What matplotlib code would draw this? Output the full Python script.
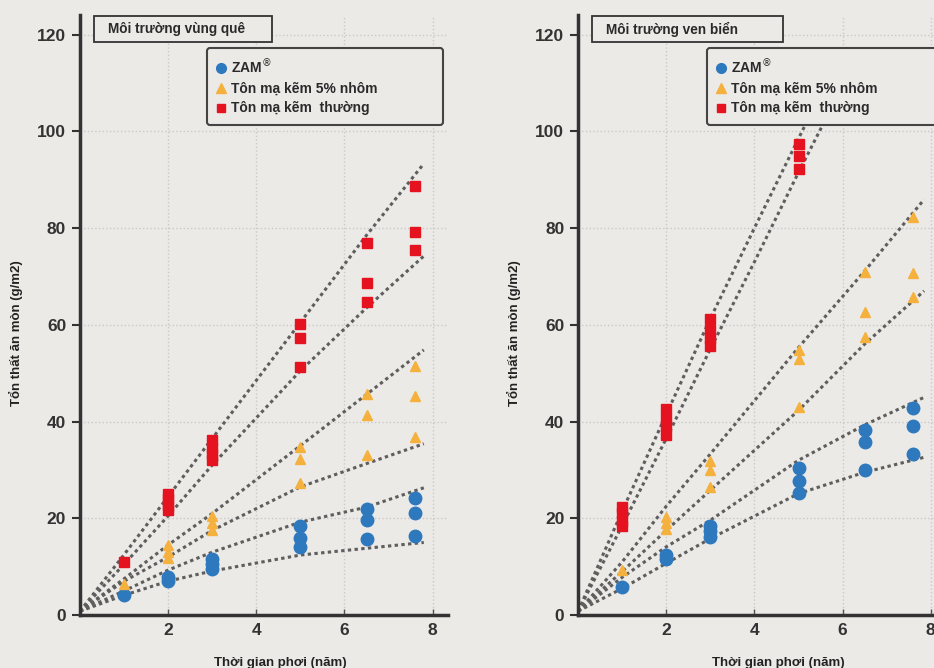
import numpy as np
import matplotlib.pyplot as plt
from matplotlib.lines import Line2D
from matplotlib.patches import Rectangle

plt.rcParams['font.family'] = ['Liberation Sans', 'DejaVu Sans']

BG = "#ECEAE7"
BLUE = "#2E78BD"
ORANGE = "#F5B13D"
RED = "#E5121F"
LINE = "#5E5E5E"

# ---- rural panel (Môi trường vùng quê) ----
rural_zam_x = [1, 2, 2, 3, 3, 3, 5, 5, 5, 6.5, 6.5, 6.5, 7.6, 7.6, 7.6]
rural_zam_y = [4.1, 7.9, 7.1, 11.5, 10.5, 9.5, 18.4, 16.0, 14.0, 21.9, 19.6, 15.8, 24.1, 21.0, 16.4]
rural_al_x = [1, 2, 2, 2, 3, 3, 3, 5, 5, 5, 6.5, 6.5, 6.5, 7.6, 7.6, 7.6]
rural_al_y = [6.5, 14.5, 13.0, 11.8, 20.5, 19.0, 17.5, 34.8, 32.3, 27.3, 45.6, 41.4, 33.0, 51.5, 45.2, 36.8]
rural_gi_x = [1, 2, 2, 2, 2, 3, 3, 3, 3, 5, 5, 5, 6.5, 6.5, 6.5, 7.6, 7.6, 7.6]
rural_gi_y = [11.0, 25.0, 24.0, 22.8, 21.8, 36.2, 34.5, 33.2, 32.0, 60.1, 57.3, 51.3, 76.8, 68.7, 64.7, 88.7, 79.2, 75.4]

rural_fit_x = [0, 1, 2, 3, 5, 6.5, 7.8]
rural_fits = [
    [0.8, 12.5, 24.5, 36.5, 60.5, 78.5, 93.3],
    [0.8, 10.5, 20.5, 31.0, 50.5, 63.5, 74.2],
    [0.8, 7.5, 14.5, 21.0, 35.0, 45.6, 54.8],
    [0.8, 7.0, 12.0, 17.5, 26.5, 31.3, 35.4],
    [0.8, 5.0, 9.3, 13.0, 19.2, 22.3, 26.3],
    [0.8, 4.1, 7.0, 9.1, 12.4, 13.8, 15.0],
]
rural_fit_xs = [rural_fit_x] * 6

# ---- coastal panel (Môi trường ven biển) ----
coast_zam_x = [1, 2, 2, 3, 3, 3, 5, 5, 5, 6.5, 6.5, 6.5, 7.6, 7.6, 7.6]
coast_zam_y = [5.7, 12.5, 11.5, 18.5, 17.3, 16.2, 30.4, 27.8, 25.2, 38.3, 35.7, 29.9, 42.8, 39.0, 33.2]
coast_al_x = [1, 2, 2, 2, 3, 3, 3, 5, 5, 5, 6.5, 6.5, 6.5, 7.6, 7.6, 7.6]
coast_al_y = [9.3, 20.3, 19.0, 17.8, 31.8, 30.0, 26.5, 54.8, 53.0, 42.9, 71.0, 62.7, 57.4, 82.3, 70.8, 65.8]
coast_gi_x = [1, 1, 1, 1, 2, 2, 2, 2, 3, 3, 3, 3, 5, 5, 5]
coast_gi_y = [22.3, 21.0, 19.5, 18.5, 42.5, 40.5, 39.0, 37.3, 61.2, 59.0, 57.3, 55.7, 97.4, 94.8, 92.1]

coast_fit_x = [0, 1, 2, 3, 5, 6.5, 7.85]
coast_fits = [
    [0.8, 21.5, 41.5, 61.3, 80.0, 98.5, 104.0],
    [0.8, 18.5, 36.5, 55.0, 73.0, 91.5, 104.0],
    [0.8, 11.0, 22.5, 33.3, 55.3, 71.1, 85.9],
    [0.8, 9.0, 17.5, 25.8, 42.3, 56.0, 67.0],
    [0.8, 7.8, 14.1, 19.6, 32.0, 39.3, 45.0],
    [0.8, 5.5, 10.7, 15.8, 25.1, 29.5, 32.6],
]
coast_fit_xs = [[0, 1, 2, 3, 4, 5, 5.3], [0, 1, 2, 3, 4, 5, 5.7]] + [coast_fit_x] * 4

xticks = [2, 4, 6, 8]
yticks = [0, 20, 40, 60, 80, 100, 120]
legend_labels = ["ZAM$^{\\circledR}$", "Tôn mạ kẽm 5% nhôm", "Tôn mạ kẽm  thường"]


def plotPanel(ax, title, zam, al, gi, fit_xs, fits, box_x1, leg_x0):
    ax.set_facecolor(BG)
    for fx, fy in zip(fit_xs, fits):
        ax.plot(fx, fy, color=LINE, lw=2.2, linestyle=(0, (1.1, 1.1)), zorder=2)
    ax.plot(zam[0], zam[1], 'o', color=BLUE, ms=9, zorder=3)
    ax.plot(al[0], al[1], '^', color=ORANGE, ms=7.5, zorder=3)
    ax.plot(gi[0], gi[1], 's', color=RED, ms=7, zorder=3)

    ax.set_xlim(0, 8.35)
    ax.set_ylim(0, 124)
    ax.set_xticks(xticks)
    ax.set_yticks(yticks)
    ax.grid(True, color="#C9C9C9", linestyle=':', lw=1)
    for s in ['top', 'right']:
        ax.spines[s].set_visible(False)
    for s in ['left', 'bottom']:
        ax.spines[s].set_color("#333333")
        ax.spines[s].set_linewidth(2.5)
    ax.tick_params(axis='y', direction='out', length=6, width=1.5, color="#333333",
                   labelsize=12.5, labelcolor="#333333", pad=4)
    ax.tick_params(axis='x', direction='in', length=4, width=1, color="#555555",
                   labelsize=12.5, labelcolor="#333333", pad=6)
    for lab in ax.get_xticklabels() + ax.get_yticklabels():
        lab.set_fontweight('bold')

    ax.set_xlabel("Thời gian phơi (năm)", fontsize=9.5, fontweight='bold', color="#222222")
    ax.xaxis.set_label_coords(0.545, -0.07)
    ax.set_ylabel("Tổn thất ăn mòn (g/m2)", fontsize=9.5, fontweight='bold', color="#222222")
    ax.yaxis.set_label_coords(-0.155, 0.47)

    ax.add_patch(Rectangle((0.038, 0.955), box_x1 - 0.038, 0.043, transform=ax.transAxes,
                           facecolor=BG, edgecolor="#333333", lw=1.3, clip_on=False, zorder=5))
    ax.text(0.075, 0.977, title, transform=ax.transAxes, fontsize=9.8, fontweight='bold',
            color="#2A2A2A", va='center', ha='left', zorder=6)

    handles = [Line2D([], [], marker='o', color=BLUE, ls='', ms=7),
               Line2D([], [], marker='^', color=ORANGE, ls='', ms=6.5),
               Line2D([], [], marker='s', color=RED, ls='', ms=6)]
    leg = ax.legend(handles, legend_labels, loc='upper left', mode='expand',
                    bbox_to_anchor=(leg_x0, 0.82, 0.64, 0.125), borderaxespad=0,
                    prop={'weight': 'bold', 'size': 10}, handlelength=0.6, handletextpad=0.4,
                    labelspacing=0.4, borderpad=0.7, fancybox=True, framealpha=1,
                    facecolor=BG, edgecolor="#444444")
    leg.get_frame().set_linewidth(1.5)
    leg.set_zorder(6)
    for t in leg.get_texts():
        t.set_color("#2A2A2A")


if __name__ == "__main__":
    fig = plt.figure(figsize=(9.34, 6.68), dpi=100, facecolor=BG)
    ax1 = fig.add_axes([0.0857, 0.0793, 0.394, 0.898])
    ax2 = fig.add_axes([0.619, 0.0793, 0.394, 0.898])

    plotPanel(ax1, "Môi trường vùng quê", (rural_zam_x, rural_zam_y), (rural_al_x, rural_al_y),
              (rural_gi_x, rural_gi_y), rural_fit_xs, rural_fits, 0.522, 0.345)
    plotPanel(ax2, "Môi trường ven biển", (coast_zam_x, coast_zam_y), (coast_al_x, coast_al_y),
              (coast_gi_x, coast_gi_y), coast_fit_xs, coast_fits, 0.557, 0.35)

    fig.savefig("out.png", dpi=100, facecolor=BG)
